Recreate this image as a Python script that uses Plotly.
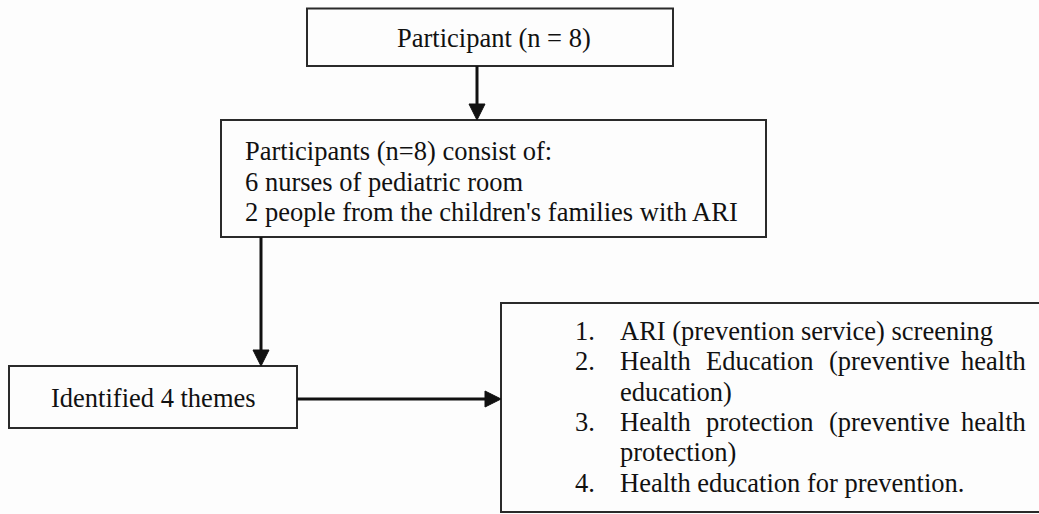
import plotly.graph_objects as go

# ---------------- content ----------------
top_text = "Participant (n = 8)"
group_lines = [
    "Participants (n=8) consist of:",
    "6 nurses of pediatric room",
    "2 people from the children's families with ARI",
]
result_text = "Identified 4 themes"
theme_numbers = ["1.", "2.", "3.", "4."]
theme_lines = [
    ["ARI (prevention service) screening"],
    ["Health", "Education", "(preventive", "health"],
    ["education)"],
    ["Health", "protection", "(preventive", "health"],
    ["protection)"],
    ["Health education for prevention."],
]
number_rows = [0, 1, 3, 5]

# ---------------- layout geometry (pixels) ----------------
W, H = 1039, 514
FONT = "Liberation Serif"
FS = 26.5
INK = "#111111"
EDGE = "#2a2a2a"

boxes = {
    "top": (307, 673, 8.5, 66),
    "group": (221, 766, 120, 237),
    "result": (9, 297, 366, 428),
    "themes": (501, 1070, 303, 512),
}

shapes = []
for x0, x1, y0, y1 in boxes.values():
    shapes.append(dict(type="rect", xref="x", yref="y", x0=x0, x1=x1, y0=y0, y1=y1,
                       line=dict(color=EDGE, width=2), fillcolor="rgba(0,0,0,0)", layer="above"))


def arrow(x0, y0, x1, y1, head=16, half=8):
    # line then triangular head at (x1, y1)
    if x0 == x1:
        d = 1 if y1 > y0 else -1
        shapes.append(dict(type="line", xref="x", yref="y", x0=x0, y0=y0, x1=x1, y1=y1 - d * (head - 2),
                           line=dict(color=INK, width=3)))
        path = f"M {x1} {y1} L {x1 - half} {y1 - d * head} L {x1 + half} {y1 - d * head} Z"
    else:
        d = 1 if x1 > x0 else -1
        shapes.append(dict(type="line", xref="x", yref="y", x0=x0, y0=y0, x1=x1 - d * (head - 2), y1=y1,
                           line=dict(color=INK, width=3)))
        path = f"M {x1} {y1} L {x1 - d * head} {y1 - half} L {x1 - d * head} {y1 + half} Z"
    shapes.append(dict(type="path", xref="x", yref="y", path=path, fillcolor=INK,
                       line=dict(color=INK, width=1)))


arrow(477, 66, 477, 120)
arrow(261, 237, 261, 366)
arrow(297, 399, 501, 399)

ann = []


def text(x, y, s, anchor="left"):
    ann.append(dict(x=x, y=y, xref="x", yref="y", text=s, showarrow=False,
                    xanchor=anchor, yanchor="middle",
                    font=dict(family=FONT, size=FS, color=INK)))


text(395, 38, top_text)
for i, s in enumerate(group_lines):
    text(243, 151 + 30.5 * i, s)
text(153, 398, result_text, anchor="center")

row_y = [331 + 30.3 * i for i in range(6)]
for n, r in zip(theme_numbers, number_rows):
    text(573, row_y[r], n)

word_x = [618, 704, 827, 1028]
for r, words in enumerate(theme_lines):
    if len(words) == 1:
        text(618, row_y[r], words[0])
    else:
        for j, w in enumerate(words):
            text(word_x[j], row_y[r], w, anchor="right" if j == len(words) - 1 else "left")

fig = go.Figure()
fig.update_layout(
    width=W, height=H,
    margin=dict(l=0, r=0, t=0, b=0),
    paper_bgcolor="#fdfdfd", plot_bgcolor="#fdfdfd",
    xaxis=dict(range=[0, W], visible=False, fixedrange=True),
    yaxis=dict(range=[H, 0], visible=False, fixedrange=True),
    shapes=shapes, annotations=ann, showlegend=False,
)
fig.write_html("out.html",
               config={"displayModeBar": False, "staticPlot": True},
               post_script="document.body.style.margin='0';document.body.style.overflow='hidden';")
